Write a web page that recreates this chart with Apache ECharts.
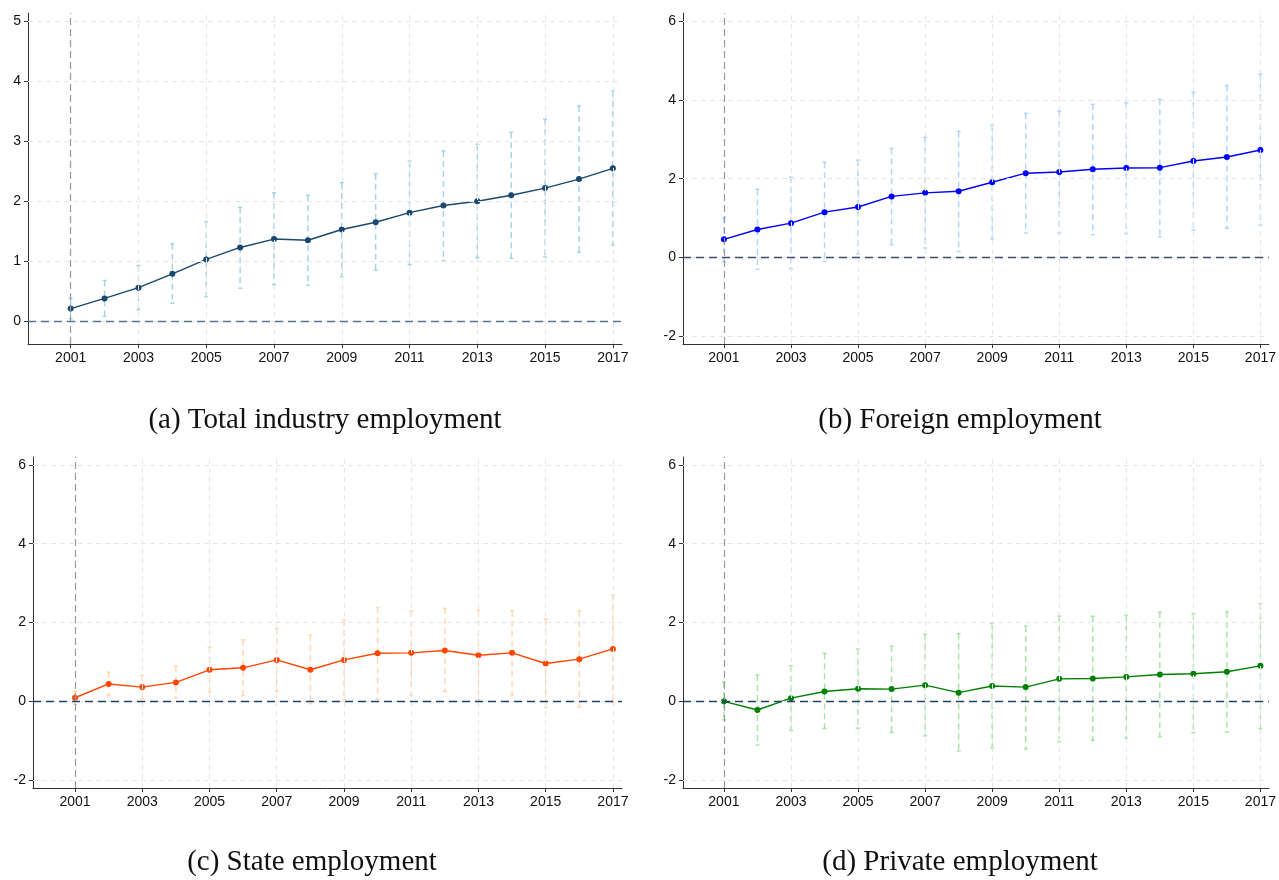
<!DOCTYPE html>
<html>
<head>
<meta charset="utf-8">
<script src="https://cdn.jsdelivr.net/npm/echarts@6/dist/echarts.min.js"></script>
<style>
html,body{margin:0;padding:0;background:#fff;}
#c{width:1279px;height:880px;}
</style>
</head>
<body>
<div id="c"></div>
<script>
const years = [2001,2002,2003,2004,2005,2006,2007,2008,2009,2010,2011,2012,2013,2014,2015,2016,2017];
const xTickYears = [2001,2003,2005,2007,2009,2011,2013,2015,2017];
const yTicksA = [0,1,2,3,4,5];
const yTicksB = [-2,0,2,4,6];

const totalEst = [0.21,0.38,0.56,0.79,1.03,1.23,1.37,1.35,1.53,1.65,1.81,1.93,2.00,2.10,2.22,2.37,2.55];
const totalLo  = [0.04,0.08,0.19,0.30,0.41,0.55,0.61,0.60,0.74,0.85,0.94,1.01,1.06,1.05,1.07,1.15,1.27];
const totalHi  = [0.38,0.68,0.93,1.29,1.66,1.90,2.14,2.10,2.31,2.46,2.67,2.84,2.95,3.15,3.37,3.59,3.84];

const foreignEst = [0.46,0.71,0.87,1.15,1.28,1.55,1.64,1.68,1.91,2.14,2.17,2.24,2.27,2.28,2.45,2.55,2.73];
const foreignLo  = [-0.12,-0.30,-0.29,-0.10,0.09,0.32,0.24,0.15,0.47,0.62,0.62,0.58,0.61,0.52,0.70,0.74,0.82];
const foreignHi  = [1.01,1.73,2.04,2.42,2.47,2.77,3.05,3.20,3.36,3.66,3.72,3.89,3.93,4.02,4.20,4.37,4.66];

const stateEst = [0.09,0.44,0.36,0.48,0.80,0.85,1.05,0.80,1.05,1.22,1.23,1.29,1.17,1.23,0.96,1.07,1.33];
const stateLo  = [-0.08,0.15,0.06,0.09,0.24,0.14,0.25,-0.06,0.04,0.06,0.16,0.25,0.04,0.16,-0.16,-0.14,-0.03];
const stateHi  = [0.25,0.74,0.66,0.89,1.38,1.56,1.85,1.68,2.06,2.38,2.29,2.36,2.31,2.30,2.09,2.29,2.69];

const privateEst = [0.00,-0.22,0.08,0.25,0.32,0.31,0.41,0.22,0.39,0.36,0.57,0.58,0.62,0.68,0.70,0.75,0.90];
const privateLo  = [-0.47,-1.11,-0.74,-0.69,-0.68,-0.79,-0.88,-1.26,-1.18,-1.21,-1.03,-0.99,-0.94,-0.90,-0.80,-0.78,-0.70];
const privateHi  = [0.49,0.67,0.90,1.22,1.33,1.40,1.70,1.72,1.98,1.91,2.16,2.16,2.18,2.26,2.22,2.27,2.48];

const captions = ['(a) Total industry employment','(b) Foreign employment','(c) State employment','(d) Private employment'];

const panels = [
  {est: totalEst, lo: totalLo, hi: totalHi, yTicks: yTicksA, ymin: -0.38, ymax: 5.14, xmin: 1999.74, xmax: 2017.27,
   grid: {left: 28, top: 13, width: 594, height: 331}, color: '#1a476f', ci: '#9fd3e6', zero: '#5a7492',
   cap: {x: 325, y: 420}},
  {est: foreignEst, lo: foreignLo, hi: foreignHi, yTicks: yTicksB, ymin: -2.2, ymax: 6.21, xmin: 1999.78, xmax: 2017.25,
   grid: {left: 683, top: 13, width: 588, height: 331}, color: '#0000ff', ci: '#add3ff', zero: '#3f5068',
   cap: {x: 960, y: 420}},
  {est: stateEst, lo: stateLo, hi: stateHi, yTicks: yTicksB, ymin: -2.2, ymax: 6.2, xmin: 1999.75, xmax: 2017.27,
   grid: {left: 33, top: 457, width: 589, height: 331}, color: '#ff4500', ci: '#ffd6ae', zero: '#23406a',
   cap: {x: 312, y: 862}},
  {est: privateEst, lo: privateLo, hi: privateHi, yTicks: yTicksB, ymin: -2.2, ymax: 6.2, xmin: 1999.78, xmax: 2017.25,
   grid: {left: 683, top: 457, width: 588, height: 331}, color: '#008000', ci: '#a3e4a3', zero: '#23406a',
   cap: {x: 960, y: 862}}
];

const chart = echarts.init(document.getElementById('c'), null, {renderer: 'canvas'});

const grids = [], xAxes = [], yAxes = [], series = [], graphicEls = [];
const axisFont = {fontFamily: 'Liberation Sans, Arial, sans-serif', fontSize: 14, color: '#111'};

panels.forEach((p, i) => {
  grids.push(Object.assign({containLabel: false}, p.grid));
  xAxes.push({
    type: 'value', gridIndex: i, min: p.xmin, max: p.xmax,
    axisLine: {show: true, onZero: false, lineStyle: {color: '#333', width: 1}},
    axisTick: {show: true, length: 4, lineStyle: {color: '#333'}, customValues: xTickYears},
    axisLabel: Object.assign({show: true, margin: 7, customValues: xTickYears, formatter: v => String(v)}, axisFont),
    splitLine: {show: false}
  });
  yAxes.push({
    type: 'value', gridIndex: i, min: p.ymin, max: p.ymax,
    axisLine: {show: true, onZero: false, lineStyle: {color: '#333', width: 1}},
    axisTick: {show: true, length: 4, lineStyle: {color: '#333'}, customValues: p.yTicks},
    axisLabel: Object.assign({show: true, margin: 7, customValues: p.yTicks, formatter: v => String(v)}, axisFont),
    splitLine: {show: false}
  });

  const estData = years.map((y, k) => [y, p.est[k]]);
  const ciData = years.map((y, k) => [y, p.lo[k], p.hi[k]]);

  // grid lines
  series.push({
    type: 'line', xAxisIndex: i, yAxisIndex: i, data: estData, showSymbol: false, silent: true,
    lineStyle: {opacity: 0}, z: 1, animation: false,
    markLine: {
      silent: true, symbol: ['none', 'none'], label: {show: false}, animation: false,
      lineStyle: {color: '#e6e6e6', type: [5, 4], width: 1},
      data: xTickYears.slice(1).map(v => ({xAxis: v})).concat(p.yTicks.map(v => ({yAxis: v})))
    }
  });
  // reference lines
  series.push({
    type: 'line', xAxisIndex: i, yAxisIndex: i, data: estData, showSymbol: false, silent: true,
    lineStyle: {opacity: 0}, z: 2, animation: false,
    markLine: {
      silent: true, symbol: ['none', 'none'], label: {show: false}, animation: false,
      data: [
        {xAxis: years[0], lineStyle: {color: '#9a9a9a', type: [7, 4], width: 1.2}},
        {yAxis: 0, lineStyle: {color: p.zero, type: [8, 5], width: 1.3}}
      ]
    }
  });
  // confidence intervals
  series.push({
    type: 'custom', xAxisIndex: i, yAxisIndex: i, data: ciData, z: 3, silent: true, animation: false,
    renderItem: (params, api) => {
      const x = api.value(0);
      const lo = api.coord([x, api.value(1)]);
      const hi = api.coord([x, api.value(2)]);
      const st = {stroke: p.ci, lineWidth: 1.4, lineDash: [6, 4]};
      const cs = {stroke: p.ci, lineWidth: 1.4};
      return {
        type: 'group',
        children: [
          {type: 'line', shape: {x1: hi[0], y1: hi[1], x2: lo[0], y2: lo[1]}, style: st},
          {type: 'line', shape: {x1: hi[0] - 2, y1: hi[1], x2: hi[0] + 2, y2: hi[1]}, style: cs},
          {type: 'line', shape: {x1: lo[0] - 2, y1: lo[1], x2: lo[0] + 2, y2: lo[1]}, style: cs}
        ]
      };
    }
  });
  // point estimates
  series.push({
    type: 'line', xAxisIndex: i, yAxisIndex: i, data: estData, z: 4, animation: false,
    symbol: 'circle', symbolSize: 6, showSymbol: true,
    lineStyle: {color: p.color, width: 1.4},
    itemStyle: {color: p.color}
  });

  graphicEls.push({
    type: 'text', x: p.cap.x, y: p.cap.y, silent: true,
    style: {text: captions[i], fontFamily: 'Liberation Serif, Times New Roman, serif', fontSize: 29,
            fill: '#111', textAlign: 'center', textVerticalAlign: 'middle'}
  });
});

chart.setOption({
  animation: false,
  backgroundColor: '#ffffff',
  grid: grids,
  xAxis: xAxes,
  yAxis: yAxes,
  series: series,
  graphic: graphicEls
});
</script>
</body>
</html>
